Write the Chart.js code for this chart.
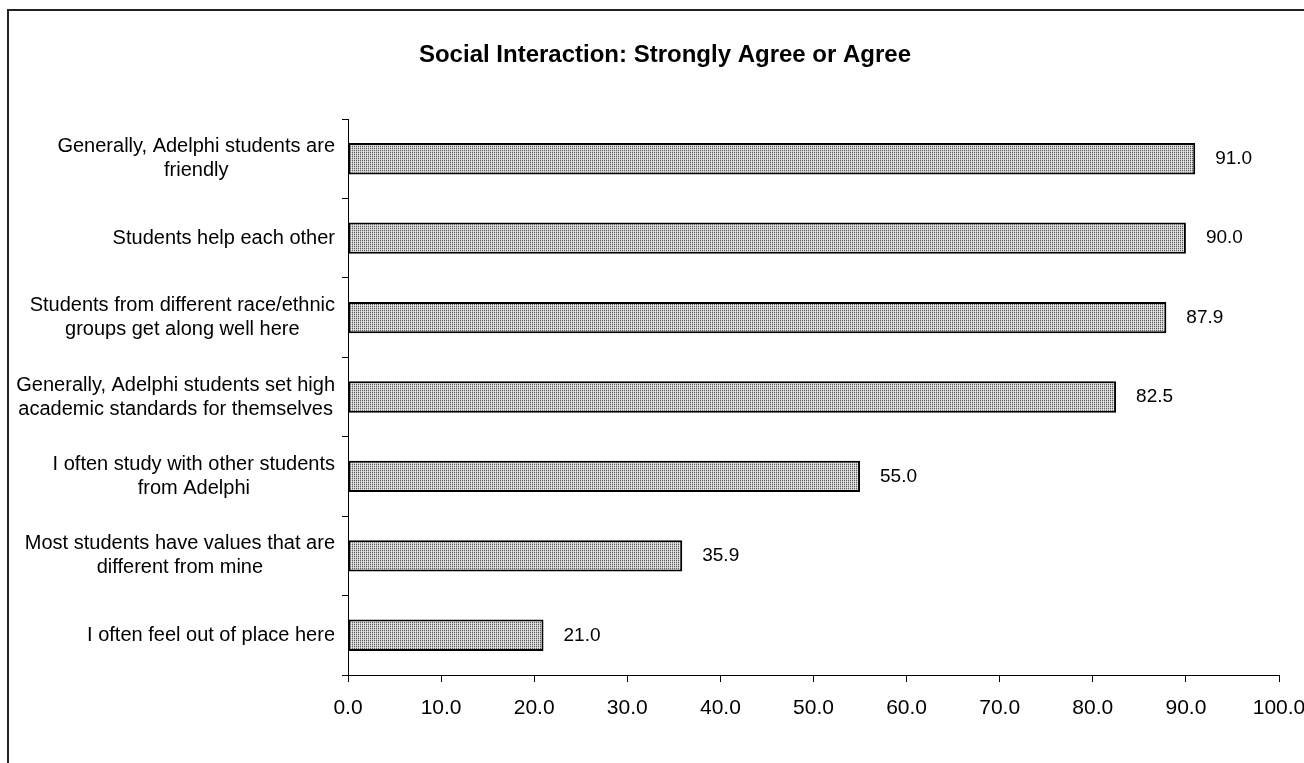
<!DOCTYPE html>
<html>
<head>
<meta charset="utf-8">
<script src="https://cdn.jsdelivr.net/npm/chart.js@4/dist/chart.umd.min.js"></script>
<style>
  html, body { margin: 0; padding: 0; background: #fff; overflow: hidden; }
  #wrap { position: absolute; left: 0; top: 0; width: 1340px; height: 800px; }
</style>
</head>
<body>
<div id="wrap"><canvas id="c" width="1340" height="800"></canvas></div>
<script>
// Survey statements (each entry is one wrapped label, line by line)
const statements = [
  ["Generally, Adelphi students are", "friendly"],
  ["Students help each other"],
  ["Students from different race/ethnic", "groups get along well here"],
  ["Generally, Adelphi students set high", "academic standards for themselves"],
  ["I often study with other students", "from Adelphi"],
  ["Most students have values that are", "different from mine"],
  ["I often feel out of place here"]
];
// Percent who strongly agree or agree
const agreePct = [91.0, 90.0, 87.9, 82.5, 55.0, 35.9, 21.0];
const chartTitle = "Social Interaction: Strongly Agree or Agree";

const FONT = "Arial, 'Liberation Sans', sans-serif";

// Fine dotted grey fill for the bars
function dotPattern() {
  const t = document.createElement('canvas');
  t.width = 2; t.height = 2;
  const g = t.getContext('2d');
  g.fillStyle = '#e6e6e6'; g.fillRect(0, 0, 2, 2);
  g.fillStyle = '#5e5e5e'; g.fillRect(0, 0, 1, 1);
  g.fillStyle = '#bdbdbd'; g.fillRect(0, 1, 1, 1);
  g.fillStyle = '#d4d4d4'; g.fillRect(1, 0, 1, 1);
  return g.createPattern(t, 'repeat');
}

// Outer frame and title
const framePlugin = {
  id: 'frame',
  beforeDraw(chart) {
    const ctx = chart.ctx;
    ctx.save();
    ctx.fillStyle = '#fff';
    ctx.fillRect(0, 0, chart.width, chart.height);
    ctx.strokeStyle = '#222';
    ctx.lineWidth = 2;
    ctx.strokeRect(8, 10, 1314, 780);
    ctx.fillStyle = '#000';
    ctx.font = 'bold 24px ' + FONT;
    ctx.textAlign = 'center';
    ctx.textBaseline = 'middle';
    ctx.fillText(chartTitle, 665, 55);
    ctx.restore();
  }
};

// Category labels: block right-aligned next to the axis, lines centred inside the block
const catLabelPlugin = {
  id: 'catLabels',
  afterDraw(chart) {
    const ctx = chart.ctx;
    const y = chart.scales.y;
    ctx.save();
    ctx.font = '20px ' + FONT;
    ctx.fillStyle = '#000';
    ctx.textAlign = 'center';
    ctx.textBaseline = 'middle';
    const right = y.right - 13;
    const lh = 24;
    statements.forEach((lines, i) => {
      const w = Math.max(...lines.map(s => ctx.measureText(s).width));
      const cx = right - w / 2;
      const cy = y.getPixelForValue(i);
      lines.forEach((s, k) => {
        ctx.fillText(s, cx, cy + (k - (lines.length - 1) / 2) * lh);
      });
    });
    ctx.restore();
  }
};

// Value labels to the right of each bar
const valueLabelPlugin = {
  id: 'valueLabels',
  afterDatasetsDraw(chart) {
    const ctx = chart.ctx;
    const meta = chart.getDatasetMeta(0);
    ctx.save();
    ctx.font = '19px ' + FONT;
    ctx.fillStyle = '#000';
    ctx.textAlign = 'left';
    ctx.textBaseline = 'middle';
    meta.data.forEach((bar, i) => {
      ctx.fillText(agreePct[i].toFixed(1), bar.x + 20, bar.y);
    });
    ctx.restore();
  }
};

new Chart(document.getElementById('c'), {
  type: 'bar',
  data: {
    labels: statements.map(l => l.join(' ')),
    datasets: [{
      data: agreePct,
      backgroundColor: dotPattern(),
      borderColor: '#000',
      borderWidth: 2,
      borderSkipped: false,
      categoryPercentage: 1,
      barPercentage: 0.395
    }]
  },
  options: {
    indexAxis: 'y',
    responsive: false,
    animation: false,
    devicePixelRatio: 1,
    layout: { padding: { top: 119, left: 0, right: 61, bottom: 85 } },
    plugins: {
      legend: { display: false },
      title: { display: false },
      tooltip: { enabled: false }
    },
    scales: {
      x: {
        min: 0, max: 100,
        ticks: {
          stepSize: 10,
          color: '#000',
          font: { family: FONT, size: 21 },
          padding: 14,
          maxRotation: 0,
          callback: v => Number(v).toFixed(1)
        },
        grid: { drawOnChartArea: false, tickLength: 7, color: '#000', tickColor: '#000' },
        border: { color: '#000', width: 1 },
        afterFit(s) { s.height = 40; }
      },
      y: {
        ticks: { display: false },
        grid: { drawOnChartArea: false, tickLength: 6, color: '#000', tickColor: '#000', offset: true },
        border: { color: '#000', width: 1 },
        afterFit(s) { s.width = 348; }
      }
    }
  },
  plugins: [framePlugin, catLabelPlugin, valueLabelPlugin]
});
</script>
</body>
</html>
